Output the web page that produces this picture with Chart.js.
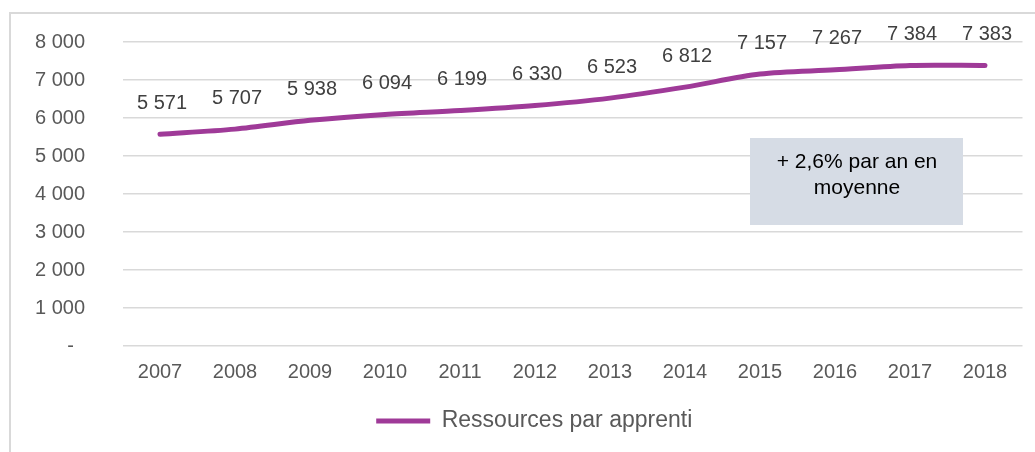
<!DOCTYPE html>
<html>
<head>
<meta charset="utf-8">
<script src="https://cdn.jsdelivr.net/npm/chart.js@4/dist/chart.umd.min.js"></script>
<style>
  html, body { margin: 0; padding: 0; background: #ffffff; }
  #wrap { position: relative; width: 1035px; height: 452px; }
  canvas { display: block; }
</style>
</head>
<body>
<div id="wrap"><canvas id="c" width="1035" height="452"></canvas></div>
<script>
const years = ['2007','2008','2009','2010','2011','2012','2013','2014','2015','2016','2017','2018'];
const ressources = [5571, 5707, 5938, 6094, 6199, 6330, 6523, 6812, 7157, 7267, 7384, 7383];
const seriesLabel = 'Ressources par apprenti';
const noteLines = ['+ 2,6% par an en', 'moyenne'];
const yTicks = [0, 1000, 2000, 3000, 4000, 5000, 6000, 7000, 8000];

const FONT = '"Liberation Sans", Arial, sans-serif';
const PURPLE = '#9f3a98';

function fmt(v) {
  if (v === 0) return '-  ';
  const th = Math.floor(v / 1000);
  const rest = String(v % 1000).padStart(3, '0');
  return th + ' ' + rest;
}

const framePlugin = {
  id: 'frame',
  afterLayout(chart) {
    if (chart.legend) { chart.legend.left += 8; chart.legend.right += 8; }
  },
  beforeDraw(chart) {
    const ctx = chart.ctx;
    ctx.save();
    ctx.strokeStyle = '#d9d9d9';
    ctx.lineWidth = 2;
    ctx.beginPath();
    ctx.moveTo(10, 460);
    ctx.lineTo(10, 13);
    ctx.lineTo(1040, 13);
    ctx.stroke();
    ctx.restore();
  }
};

const labelsPlugin = {
  id: 'pointLabels',
  afterDatasetsDraw(chart) {
    const ctx = chart.ctx;
    const meta = chart.getDatasetMeta(0);
    ctx.save();
    ctx.font = '20px ' + FONT;
    ctx.fillStyle = '#404040';
    ctx.textAlign = 'center';
    ctx.textBaseline = 'middle';
    meta.data.forEach((pt, i) => {
      ctx.fillText(fmt(ressources[i]), pt.x + 2, pt.y - 31);
    });
    // note box
    ctx.fillStyle = '#d6dce5';
    ctx.fillRect(750, 138, 213, 87);
    ctx.fillStyle = '#000000';
    ctx.font = '21px ' + FONT;
    ctx.fillText(noteLines[0], 857, 162);
    ctx.fillText(noteLines[1], 857, 188);
    ctx.restore();
  }
};

new Chart(document.getElementById('c'), {
  type: 'line',
  data: {
    labels: years,
    datasets: [{
      label: seriesLabel,
      data: ressources,
      borderColor: PURPLE,
      backgroundColor: PURPLE,
      borderWidth: 5,
      pointRadius: 0,
      tension: 0.3,
      borderCapStyle: 'round',
      fill: false
    }]
  },
  options: {
    responsive: false,
    animation: false,
    devicePixelRatio: 1,
    layout: { padding: { top: 42, bottom: 9.5, left: 30, right: 12.5 } },
    plugins: {
      tooltip: { enabled: false },
      legend: {
        position: 'bottom',
        labels: {
          font: { family: FONT, size: 23 },
          color: '#595959',
          boxWidth: 54,
          boxHeight: 5,
          padding: 10,
          useBorderRadius: true,
          borderRadius: 2.5,
          generateLabels: (chart) => chart.data.datasets.map((ds, i) => ({
            text: ds.label,
            fillStyle: ds.borderColor,
            strokeStyle: ds.borderColor,
            lineWidth: 0,
            hidden: false,
            datasetIndex: i,
            fontColor: '#595959'
          }))
        }
      }
    },
    scales: {
      x: {
        offset: true,
        grid: { display: false, drawTicks: false, offset: true },
        border: { display: false },
        ticks: { font: { family: FONT, size: 20 }, color: '#595959', padding: 14, maxRotation: 0 },
        afterFit(scale) { scale.height = 53.5; scale.paddingLeft = 0; scale.paddingRight = 0; }
      },
      y: {
        min: 0,
        max: 8000,
        afterBuildTicks(scale) { scale.ticks = yTicks.map(v => ({ value: v })); },
        grid: { color: '#d9d9d9', lineWidth: 1.5, drawTicks: false },
        border: { display: false },
        ticks: {
          font: { family: FONT, size: 20 },
          color: '#595959',
          padding: 37.5,
          callback: (v) => fmt(v)
        },
        afterFit(scale) { scale.width = 92.5; scale.paddingTop = 0; scale.paddingBottom = 0; }
      }
    }
  },
  plugins: [framePlugin, labelsPlugin]
});
</script>
</body>
</html>
